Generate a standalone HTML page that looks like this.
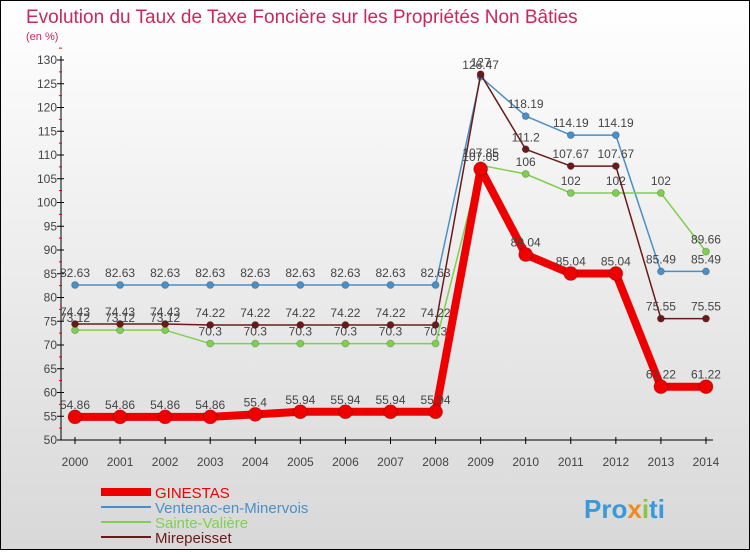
<!DOCTYPE html>
<html><head><meta charset="utf-8">
<style>
body{margin:0;width:750px;height:550px;overflow:hidden;font-family:"Liberation Sans",sans-serif}
#wrap{position:relative;width:748px;height:548px;border:1px solid #000;background:linear-gradient(#fff,#d8d8d8)}
svg text{font-family:"Liberation Sans",sans-serif}
</style></head><body>
<div id="wrap">
<svg id="chart" width="748" height="548">
<text x="25" y="22" font-size="19" fill="#c8285a">Evolution du Taux de Taxe Foncière sur les Propriétés Non Bâties</text>
<text x="25" y="39" font-size="11" fill="#c8285a">(en %)</text>
<g id="axes"></g><g id="series"></g><g id="legend"></g>
<text x="583" y="517" font-size="26" font-weight="bold" fill="#3a9ad9">Pro<tspan fill="#f08a1c">x</tspan><tspan fill="#8cc63f">i</tspan>ti</text>
</svg>
</div>
<script>
const years=[2000,2001,2002,2003,2004,2005,2006,2007,2008,2009,2010,2011,2012,2013,2014];
const yTicks=[50,55,60,65,70,75,80,85,90,95,100,105,110,115,120,125,130];
const ginestas=[54.86,54.86,54.86,54.86,55.4,55.94,55.94,55.94,55.94,107.05,89.04,85.04,85.04,61.22,61.22];
const ventenac=[82.63,82.63,82.63,82.63,82.63,82.63,82.63,82.63,82.63,126.47,118.19,114.19,114.19,85.49,85.49];
const valiere=[73.12,73.12,73.12,70.3,70.3,70.3,70.3,70.3,70.3,107.85,106,102,102,102,89.66];
const mirepeisset=[74.43,74.43,74.43,74.22,74.22,74.22,74.22,74.22,74.22,127,111.2,107.67,107.67,75.55,75.55];
const names=["GINESTAS","Ventenac-en-Minervois","Sainte-Valière","Mirepeisset"];
const NS="http://www.w3.org/2000/svg";
const X=i=>74+i*45.07, Y=v=>439-(v-50)*4.75;
function mk(tag,attrs,parent){const e=document.createElementNS(NS,tag);for(const k in attrs)e.setAttribute(k,attrs[k]);parent.appendChild(e);return e;}
const axes=document.getElementById('axes');
mk('line',{x1:60,y1:55,x2:60,y2:439,stroke:'#000'},axes);
mk('line',{x1:60,y1:439,x2:712,y2:439,stroke:'#000'},axes);
yTicks.forEach(v=>{
 mk('line',{x1:56,y1:Y(v),x2:63,y2:Y(v),stroke:'#000'},axes);
 mk('line',{x1:58,y1:Y(v+2.5),x2:61,y2:Y(v+2.5),stroke:'#e00'},axes);
 const t=mk('text',{x:56,y:Y(v)+4,'font-size':12,'text-anchor':'end',fill:'#444'},axes);
 
 
 t.textContent=v;
});
years.forEach((yr,i)=>{
 mk('line',{x1:X(i),y1:436,x2:X(i),y2:443,stroke:'#000'},axes);
 const t=mk('text',{x:X(i),y:465,'font-size':12,'text-anchor':'middle',fill:'#444'},axes);
 
 
 t.textContent=yr;
});
const ser=document.getElementById('series');
function draw(data,color,w,r,name){
 const g=mk('g',{},ser);
 
 
 mk('polyline',{points:data.map((v,i)=>X(i)+','+Y(v)).join(' '),fill:'none',stroke:color,'stroke-width':w,'stroke-linejoin':'round'},g);
 data.forEach((v,i)=>{
  const c=mk('circle',{cx:X(i),cy:Y(v),r:r,fill:color,stroke:'rgba(0,0,0,0.2)'},g);
  
  
  const t=mk('text',{x:X(i),y:Y(v)-8,'font-size':12,'text-anchor':'middle',fill:'#444'},g);
  
  
  t.textContent=v;
 });
}
draw(ventenac,'#4a90c8',1.5,3.5,'series-ventenac');
draw(valiere,'#80d050',1.5,3.5,'series-sainte-valiere');
draw(mirepeisset,'#6a1a1a',1.5,3.5,'series-mirepeisset');
draw(ginestas,'#ee0000',8,7,'series-ginestas');
const lg=document.getElementById('legend');
const cols=['#ee0000','#4a90c8','#80d050','#6a1a1a'],ws=[8,2,2,2];
names.forEach((n,i)=>{
 const y=491+i*15;
 const g=mk('g',{},lg);
 
 
 mk('line',{x1:100,y1:y,x2:150,y2:y,stroke:cols[i],'stroke-width':ws[i]},g);
 const t=mk('text',{x:154,y:y+6,'font-size':15,fill:cols[i]},g);
 t.textContent=n;
});
</script>
</body></html>
